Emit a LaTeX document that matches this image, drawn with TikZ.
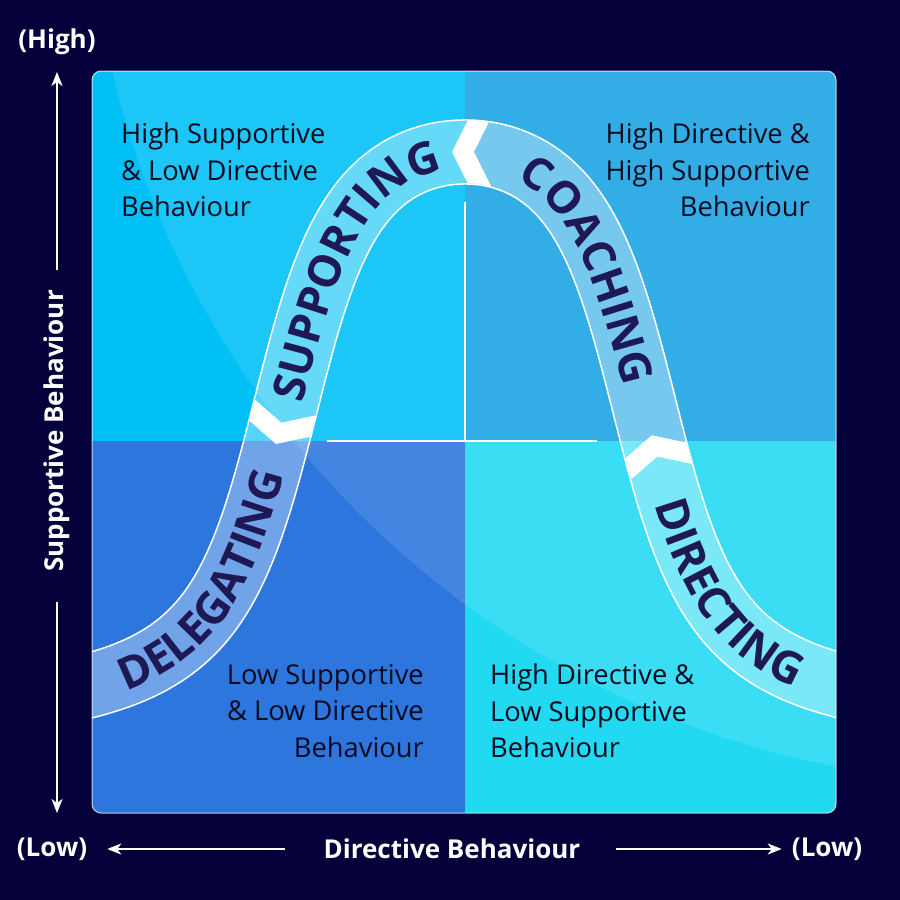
\documentclass[tikz,border=0pt]{standalone}
\usepackage{fontspec}
\setmainfont{Open Sans}
\usetikzlibrary{decorations.text, arrows.meta}
\definecolor{bgnavy}{RGB}{3,0,58}
\definecolor{qtl}{RGB}{0,192,245}
\definecolor{qtr}{RGB}{26,164,227}
\definecolor{qbl}{RGB}{44,118,222}
\definecolor{qbr}{RGB}{34,217,242}
\definecolor{bandtext}{RGB}{30,24,85}
\definecolor{labtext}{RGB}{10,10,30}
\newcommand{\bandfont}{\fontsize{44.5}{44.5}\selectfont\bfseries}
\def\chh{18}\def\chw{22}\def\chb{36}
\newcommand{\mychev}[2]{%
  \pgfmathsetmacro\cvX{465+100*(#1)}%
  \pgfmathsetmacro\cvY{370.5+3.9444*atan(((#1)*(#1)-2.9)/2)}%
  \pgfmathsetmacro\cvD{2.26*(#1)/(1+(((#1)*(#1)-2.9)/2)^2)}%
  \pgfmathsetmacro\cvN{sqrt(1+(\cvD)*(\cvD))}%
  \pgfmathsetmacro\cvtx{-1/\cvN}%
  \pgfmathsetmacro\cvty{-(\cvD)/\cvN}%
  \pgfmathsetmacro\cvnx{(\cvD)/\cvN}%
  \pgfmathsetmacro\cvny{-1/\cvN}%
  \pgfmathsetmacro\cvpx{\cvX+(#2)*(\cvtx)}%
  \pgfmathsetmacro\cvpy{\cvY+(#2)*(\cvty)}%
  \fill[white] (\cvpx,\cvpy)
    -- ({\cvpx-\chh*(\cvtx)+\chb*(\cvnx)},{\cvpy-\chh*(\cvty)+\chb*(\cvny)})
    -- ({\cvpx-(\chh+\chw)*(\cvtx)+\chb*(\cvnx)},{\cvpy-(\chh+\chw)*(\cvty)+\chb*(\cvny)})
    -- ({\cvpx-\chw*(\cvtx)},{\cvpy-\chw*(\cvty)})
    -- ({\cvpx-(\chh+\chw)*(\cvtx)-\chb*(\cvnx)},{\cvpy-(\chh+\chw)*(\cvty)-\chb*(\cvny)})
    -- ({\cvpx-\chh*(\cvtx)-\chb*(\cvnx)},{\cvpy-\chh*(\cvty)-\chb*(\cvny)}) -- cycle;}
\tikzset{
  declare function={
    bellY(\a)=370.5+3.9444*atan(((\a)*(\a)-2.9)/2);
    bellD(\a)=2.26*(\a)/(1+(((\a)*(\a)-2.9)/2)^2);
    bellN(\a)=sqrt(1+bellD(\a)*bellD(\a));
    offX(\a,\b)=465+100*(\a)+(\b)*bellD(\a)/bellN(\a);
    offY(\a,\b)=bellY(\a)-(\b)/bellN(\a);
  },
  quadlabel/.style={text=labtext, inner sep=0pt, font=\fontsize{27.3}{36.5}\selectfont},
  axislabel/.style={text=white, inner sep=0pt, font=\fontsize{26}{30}\selectfont\bfseries},
  axisarrow/.style={white, line width=1.8pt, -{Stealth[length=14pt,width=11pt,inset=4pt]}},
  bandedge/.style={white, line width=1.5pt},
  midline/.style={white, line width=1.5pt},
  bandword/.style={decorate, decoration={text along path, text align=center, text color=bandtext, text={|\bandfont|#1}}}
}
\begin{document}
\begin{tikzpicture}[x=1pt,y=-1pt]
\useasboundingbox (0,0) rectangle (900,900);
\fill[bgnavy] (0,0) rectangle (900,900);
\begin{scope}
  \clip[rounded corners=9pt] (92,71) rectangle (836,813);
  \fill[qtl] (92,71) rectangle (465,441);
  \fill[qtr] (465,71) rectangle (836,441);
  \fill[qbl] (92,441) rectangle (465,813);
  \fill[qbr] (465,441) rectangle (836,813);
  \fill[white, opacity=0.11] (1011,-140) circle[radius=923pt];
  % band
  \fill[white, fill opacity=0.33]
    plot[domain=-3.9:3.9, samples=200, smooth, variable=\u] ({offX(\u,32)},{offY(\u,32)})
    -- plot[domain=3.9:-3.9, samples=200, smooth, variable=\u] ({offX(\u,-32)},{offY(\u,-32)}) -- cycle;
  \draw[bandedge] plot[domain=-3.9:3.9, samples=200, smooth, variable=\u] ({offX(\u,32)},{offY(\u,32)});
  \draw[bandedge] plot[domain=-3.9:3.9, samples=200, smooth, variable=\u] ({offX(\u,-32)},{offY(\u,-32)});
  % chevrons
  \begin{scope}
    \clip plot[domain=-3.9:3.9, samples=200, smooth, variable=\u] ({offX(\u,31.2)},{offY(\u,31.2)})
      -- plot[domain=3.9:-3.9, samples=200, smooth, variable=\u] ({offX(\u,-31.2)},{offY(\u,-31.2)}) -- cycle;
    \mychev{0}{13}
    \mychev{-1.883}{3}
    \mychev{1.883}{6}
  \end{scope}
  % mid lines
  \draw[midline] (465,202) -- (465,441);
  \draw[midline] (327,441) -- (597,441);
  % band words
  \path[bandword=DELEGATING] plot[domain=-3.66:-1.90, samples=100, variable=\u] ({offX(\u,-15.8)},{offY(\u,-15.8)});
  \path[bandword=SUPPORTING] plot[domain=-1.80:-0.14, samples=100, variable=\u] ({offX(\u,-15.8)},{offY(\u,-15.8)});
  \path[bandword=COACHING] plot[domain=0.30:1.80, samples=100, variable=\u] ({offX(\u,-15.8)},{offY(\u,-15.8)});
  \path[bandword=DIRECTING] plot[domain=1.93:3.74, samples=100, variable=\u] ({offX(\u,-15.8)},{offY(\u,-15.8)});
\end{scope}
\draw[white, opacity=0.75, line width=1pt, rounded corners=9pt] (92,71) rectangle (836,813);
% quadrant labels
\node[quadlabel, anchor=north west, align=left] (tl) at (121,123) {High Supportive\\\& Low Directive\\Behaviour};
\node[quadlabel, anchor=north east, align=right] (tr) at (810,123) {High Directive \&\\High Supportive\\Behaviour};
\node[quadlabel, anchor=north east, align=right] (bl) at (424,664) {Low Supportive\\\& Low Directive\\Behaviour};
\node[quadlabel, anchor=north west, align=left] (br) at (490,664) {High Directive \&\\Low Supportive\\Behaviour};
% axes
\node[axislabel] (high) at (57,42) {(High)};
\node[axislabel, rotate=90] (sb) at (57,431) {Supportive Behaviour};
\node[axislabel] (low1) at (52,849) {(Low)};
\node[axislabel] (db) at (452,849) {Directive Behaviour};
\node[axislabel] (low2) at (827,849) {(Low)};
\coordinate (upTop) at (57,72);
\coordinate (downBot) at (57,813);
\draw[axisarrow, shorten <=20pt] (sb.east) -- (upTop);
\draw[axisarrow, shorten <=30pt] (sb.west) -- (downBot);
\draw[axisarrow, shorten <=38pt, shorten >=20pt] (db.west) -- (low1.east);
\draw[axisarrow, shorten <=35pt, shorten >=10pt] (db.east) -- (low2.west);
\end{tikzpicture}
\end{document}
